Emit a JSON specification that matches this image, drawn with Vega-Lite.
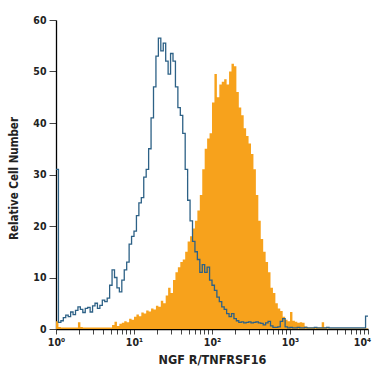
{
  "$schema": "https://vega.github.io/schema/vega-lite/v6.json",
  "autosize": "none",
  "width": 312,
  "height": 309,
  "padding": {"left": 56, "top": 20, "right": 7, "bottom": 46},
  "background": "white",
  "config": {
    "view": {"stroke": null},
    "font": "'DejaVu Sans Condensed', 'Liberation Sans', sans-serif",
    "axis": {
      "labelFont": "'DejaVu Sans Condensed', 'Liberation Sans', sans-serif",
      "titleFont": "'DejaVu Sans Condensed', 'Liberation Sans', sans-serif",
      "labelFontWeight": "bold",
      "titleFontWeight": "bold",
      "labelColor": "#222",
      "titleColor": "#222",
      "domainColor": "#000",
      "domainWidth": 1.3,
      "tickColor": "#444",
      "grid": false
    }
  },
  "datasets": {
    "ngf": [
      {"x": 1, "n": 1.5}, {"x": 1.0746, "n": 0.4}, {"x": 1.1548, "n": 0.3}, {"x": 1.2409, "n": 0.3}, {"x": 1.3335, "n": 0.3}, {"x": 1.433, "n": 0.3}, {"x": 1.5399, "n": 0.3}, {"x": 1.6548, "n": 0.3}, {"x": 1.7783, "n": 0.3}, {"x": 1.911, "n": 1.3}, {"x": 2.0535, "n": 0.4}, {"x": 2.2067, "n": 0.3}, {"x": 2.3714, "n": 0.3}, {"x": 2.5483, "n": 0.3}, {"x": 2.7384, "n": 0.3}, {"x": 2.9427, "n": 0.3}, {"x": 3.1623, "n": 0.3}, {"x": 3.3982, "n": 0.3}, {"x": 3.6517, "n": 0.3}, {"x": 3.9242, "n": 0.3}, {"x": 4.217, "n": 0.3}, {"x": 4.5316, "n": 0.3}, {"x": 4.8697, "n": 0.3}, {"x": 5.233, "n": 0.8}, {"x": 5.6234, "n": 1.4}, {"x": 6.043, "n": 0.6}, {"x": 6.4938, "n": 1.0}, {"x": 6.9783, "n": 1.2}, {"x": 7.4989, "n": 1.5}, {"x": 8.0584, "n": 1.3}, {"x": 8.6596, "n": 2.0}, {"x": 9.3057, "n": 1.8},
      {"x": 10, "n": 2.4}, {"x": 10.746, "n": 2.8}, {"x": 11.548, "n": 2.5}, {"x": 12.409, "n": 3.2}, {"x": 13.335, "n": 3.0}, {"x": 14.33, "n": 3.6}, {"x": 15.399, "n": 3.4}, {"x": 16.548, "n": 4.0}, {"x": 17.783, "n": 3.8}, {"x": 19.11, "n": 4.5}, {"x": 20.535, "n": 4.3}, {"x": 22.067, "n": 5.5}, {"x": 23.714, "n": 5.0}, {"x": 25.483, "n": 6.5}, {"x": 27.384, "n": 8.0}, {"x": 29.427, "n": 7.0}, {"x": 31.623, "n": 9.5}, {"x": 33.982, "n": 11}, {"x": 36.517, "n": 12}, {"x": 39.242, "n": 13}, {"x": 42.17, "n": 13.5}, {"x": 45.316, "n": 15}, {"x": 48.697, "n": 17}, {"x": 52.33, "n": 18}, {"x": 56.234, "n": 19.5}, {"x": 60.43, "n": 21}, {"x": 64.938, "n": 23}, {"x": 69.783, "n": 26}, {"x": 74.989, "n": 31}, {"x": 80.584, "n": 35}, {"x": 86.596, "n": 37}, {"x": 93.057, "n": 38},
      {"x": 100, "n": 44}, {"x": 107.46, "n": 49.5}, {"x": 115.48, "n": 45}, {"x": 124.09, "n": 47.5}, {"x": 133.35, "n": 48}, {"x": 143.3, "n": 48.5}, {"x": 153.99, "n": 47.5}, {"x": 165.48, "n": 50}, {"x": 177.83, "n": 51.5}, {"x": 191.1, "n": 51}, {"x": 205.35, "n": 46}, {"x": 220.67, "n": 43}, {"x": 237.14, "n": 41.5}, {"x": 254.83, "n": 39}, {"x": 273.84, "n": 37.5}, {"x": 294.27, "n": 36}, {"x": 316.23, "n": 34}, {"x": 339.82, "n": 31}, {"x": 365.17, "n": 26}, {"x": 392.42, "n": 21}, {"x": 421.7, "n": 17.5}, {"x": 453.16, "n": 15}, {"x": 486.97, "n": 13}, {"x": 523.3, "n": 11}, {"x": 562.34, "n": 8}, {"x": 604.3, "n": 7}, {"x": 649.38, "n": 5}, {"x": 697.83, "n": 4}, {"x": 749.89, "n": 3.5}, {"x": 805.84, "n": 2.4}, {"x": 865.96, "n": 1.8}, {"x": 930.57, "n": 1.5},
      {"x": 1000, "n": 3.3}, {"x": 1074.6, "n": 1.6}, {"x": 1154.8, "n": 1.4}, {"x": 1240.9, "n": 1.2}, {"x": 1333.5, "n": 1.3}, {"x": 1433, "n": 1.2}, {"x": 1539.9, "n": 0.5}, {"x": 1654.8, "n": 0.3}, {"x": 1778.3, "n": 0.3}, {"x": 1911, "n": 0.3}, {"x": 2053.5, "n": 0.3}, {"x": 2206.7, "n": 0.3}, {"x": 2371.4, "n": 0.3}, {"x": 2548.3, "n": 1.3}, {"x": 2738.4, "n": 0.3}, {"x": 2942.7, "n": 0.1}, {"x": 3162.3, "n": 0.1}, {"x": 3398.2, "n": 0.1}, {"x": 3651.7, "n": 0.1}, {"x": 3924.2, "n": 0.1}, {"x": 4217, "n": 0.1}, {"x": 4531.6, "n": 0.1}, {"x": 4869.7, "n": 0.1}, {"x": 5233, "n": 0.1}, {"x": 5623.4, "n": 0.1}, {"x": 6043, "n": 0.1}, {"x": 6493.8, "n": 0.1}, {"x": 6978.3, "n": 0.1}, {"x": 7498.9, "n": 0.1}, {"x": 8058.4, "n": 0.1}, {"x": 8659.6, "n": 0.1}, {"x": 9305.7, "n": 0.1}, {"x": 10000, "n": 0.1}
    ],
    "iso": [
      {"x": 1, "n": 31}, {"x": 1.0746, "n": 1.3}, {"x": 1.1548, "n": 1.6}, {"x": 1.2409, "n": 2.2}, {"x": 1.3335, "n": 2.7}, {"x": 1.433, "n": 2.4}, {"x": 1.5399, "n": 3.3}, {"x": 1.6548, "n": 2.8}, {"x": 1.7783, "n": 3.6}, {"x": 1.911, "n": 4.3}, {"x": 2.0535, "n": 3.8}, {"x": 2.2067, "n": 3.2}, {"x": 2.3714, "n": 4.0}, {"x": 2.5483, "n": 4.2}, {"x": 2.7384, "n": 3.3}, {"x": 2.9427, "n": 4.5}, {"x": 3.1623, "n": 5.0}, {"x": 3.3982, "n": 4.0}, {"x": 3.6517, "n": 4.6}, {"x": 3.9242, "n": 5.6}, {"x": 4.217, "n": 5.3}, {"x": 4.5316, "n": 6.0}, {"x": 4.8697, "n": 8.5}, {"x": 5.233, "n": 11.5}, {"x": 5.6234, "n": 10.0}, {"x": 6.043, "n": 8.0}, {"x": 6.4938, "n": 7.2}, {"x": 6.9783, "n": 9.5}, {"x": 7.4989, "n": 11.5}, {"x": 8.0584, "n": 13}, {"x": 8.6596, "n": 16.5}, {"x": 9.3057, "n": 18},
      {"x": 10, "n": 19}, {"x": 10.746, "n": 22}, {"x": 11.548, "n": 24.5}, {"x": 12.409, "n": 25.5}, {"x": 13.335, "n": 29.5}, {"x": 14.33, "n": 31}, {"x": 15.399, "n": 35}, {"x": 16.548, "n": 41}, {"x": 17.783, "n": 47}, {"x": 19.11, "n": 53}, {"x": 20.535, "n": 56.5}, {"x": 22.067, "n": 54}, {"x": 23.714, "n": 55.5}, {"x": 25.483, "n": 52}, {"x": 27.384, "n": 49.5}, {"x": 29.427, "n": 53.5}, {"x": 31.623, "n": 52}, {"x": 33.982, "n": 47}, {"x": 36.517, "n": 43}, {"x": 39.242, "n": 41.5}, {"x": 42.17, "n": 38}, {"x": 45.316, "n": 31}, {"x": 48.697, "n": 25}, {"x": 52.33, "n": 21}, {"x": 56.234, "n": 17}, {"x": 60.43, "n": 15}, {"x": 64.938, "n": 13.5}, {"x": 69.783, "n": 11}, {"x": 74.989, "n": 12.5}, {"x": 80.584, "n": 11}, {"x": 86.596, "n": 12}, {"x": 93.057, "n": 9.5},
      {"x": 100, "n": 8.5}, {"x": 107.46, "n": 7.5}, {"x": 115.48, "n": 6.2}, {"x": 124.09, "n": 5.3}, {"x": 133.35, "n": 4.3}, {"x": 143.3, "n": 3.8}, {"x": 153.99, "n": 3.0}, {"x": 165.48, "n": 2.4}, {"x": 177.83, "n": 3.0}, {"x": 191.1, "n": 2.0}, {"x": 205.35, "n": 1.6}, {"x": 220.67, "n": 1.3}, {"x": 237.14, "n": 1.4}, {"x": 254.83, "n": 1.2}, {"x": 273.84, "n": 1.3}, {"x": 294.27, "n": 1.4}, {"x": 316.23, "n": 1.2}, {"x": 339.82, "n": 1.3}, {"x": 365.17, "n": 1.4}, {"x": 392.42, "n": 1.2}, {"x": 421.7, "n": 1.1}, {"x": 453.16, "n": 0.8}, {"x": 486.97, "n": 1.2}, {"x": 523.3, "n": 1.5}, {"x": 562.34, "n": 0.6}, {"x": 604.3, "n": 0.3}, {"x": 649.38, "n": 0.3}, {"x": 697.83, "n": 0.4}, {"x": 749.89, "n": 1.5}, {"x": 805.84, "n": 2.0}, {"x": 865.96, "n": 0.4}, {"x": 930.57, "n": 0.2},
      {"x": 1000, "n": 0.3}, {"x": 1074.6, "n": 0.2}, {"x": 1154.8, "n": 0.2}, {"x": 1240.9, "n": 0.3}, {"x": 1333.5, "n": 0.2}, {"x": 1433, "n": 0.2}, {"x": 1539.9, "n": 0.3}, {"x": 1654.8, "n": 0.2}, {"x": 1778.3, "n": 0.2}, {"x": 1911, "n": 0.2}, {"x": 2053.5, "n": 0.3}, {"x": 2206.7, "n": 0.2}, {"x": 2371.4, "n": 0.2}, {"x": 2548.3, "n": 0.2}, {"x": 2738.4, "n": 0.2}, {"x": 2942.7, "n": 0.3}, {"x": 3162.3, "n": 0.2}, {"x": 3398.2, "n": 0.2}, {"x": 3651.7, "n": 0.2}, {"x": 3924.2, "n": 0.2}, {"x": 4217, "n": 0.2}, {"x": 4531.6, "n": 0.2}, {"x": 4869.7, "n": 0.2}, {"x": 5233, "n": 0.2}, {"x": 5623.4, "n": 0.2}, {"x": 6043, "n": 0.2}, {"x": 6493.8, "n": 0.2}, {"x": 6978.3, "n": 0.2}, {"x": 7498.9, "n": 0.2}, {"x": 8058.4, "n": 0.2}, {"x": 8659.6, "n": 0.2}, {"x": 9305.7, "n": 2.5}, {"x": 10000, "n": 2.5}
    ]
  },
  "layer": [
    {
      "data": {"name": "ngf"},
      "mark": {"type": "area", "interpolate": "step-after", "color": "#f7a21c", "clip": true},
      "encoding": {
        "x": {
          "field": "x", "type": "quantitative",
          "scale": {"type": "log", "domain": [1, 10000], "nice": false},
          "axis": {
            "title": "NGF R/TNFRSF16",
            "titleFontSize": 12.5,
            "titlePadding": 6,
            "values": [1,2,3,4,5,6,7,8,9,10,20,30,40,50,60,70,80,90,100,200,300,400,500,600,700,800,900,1000,2000,3000,4000,5000,6000,7000,8000,9000,10000],
            "labelExpr": "datum.value == 1 ? '10⁰' : datum.value == 10 ? '10¹' : datum.value == 100 ? '10²' : datum.value == 1000 ? '10³' : datum.value == 10000 ? '10⁴' : ''",
            "labelFontSize": 10.5,
            "labelPadding": 3,
            "labelOverlap": false,
            "labelFlush": false,
            "labelBound": false,
            "labelOffset": {"condition": {"test": "datum.value == 10000", "value": -6}, "value": 0},
            "tickSize": 5
          }
        },
        "y": {
          "field": "n", "type": "quantitative",
          "scale": {"domain": [0, 60], "nice": false},
          "stack": null,
          "axis": {
            "title": "Relative Cell Number",
            "titleFontSize": 11.5,
            "titleAngle": -90,
            "titleX": -42,
            "titleY": 158,
            "titleBaseline": "middle",
            "titleAlign": "center",
            "values": [0, 10, 20, 30, 40, 50, 60],
            "labelFontSize": 10.5,
            "labelPadding": 3,
            "tickSize": 7
          }
        }
      }
    },
    {
      "data": {"name": "iso"},
      "mark": {"type": "line", "interpolate": "step-after", "color": "#2d6186", "strokeWidth": 1.3, "clip": true},
      "encoding": {
        "x": {"field": "x", "type": "quantitative"},
        "y": {"field": "n", "type": "quantitative"}
      }
    }
  ]
}
